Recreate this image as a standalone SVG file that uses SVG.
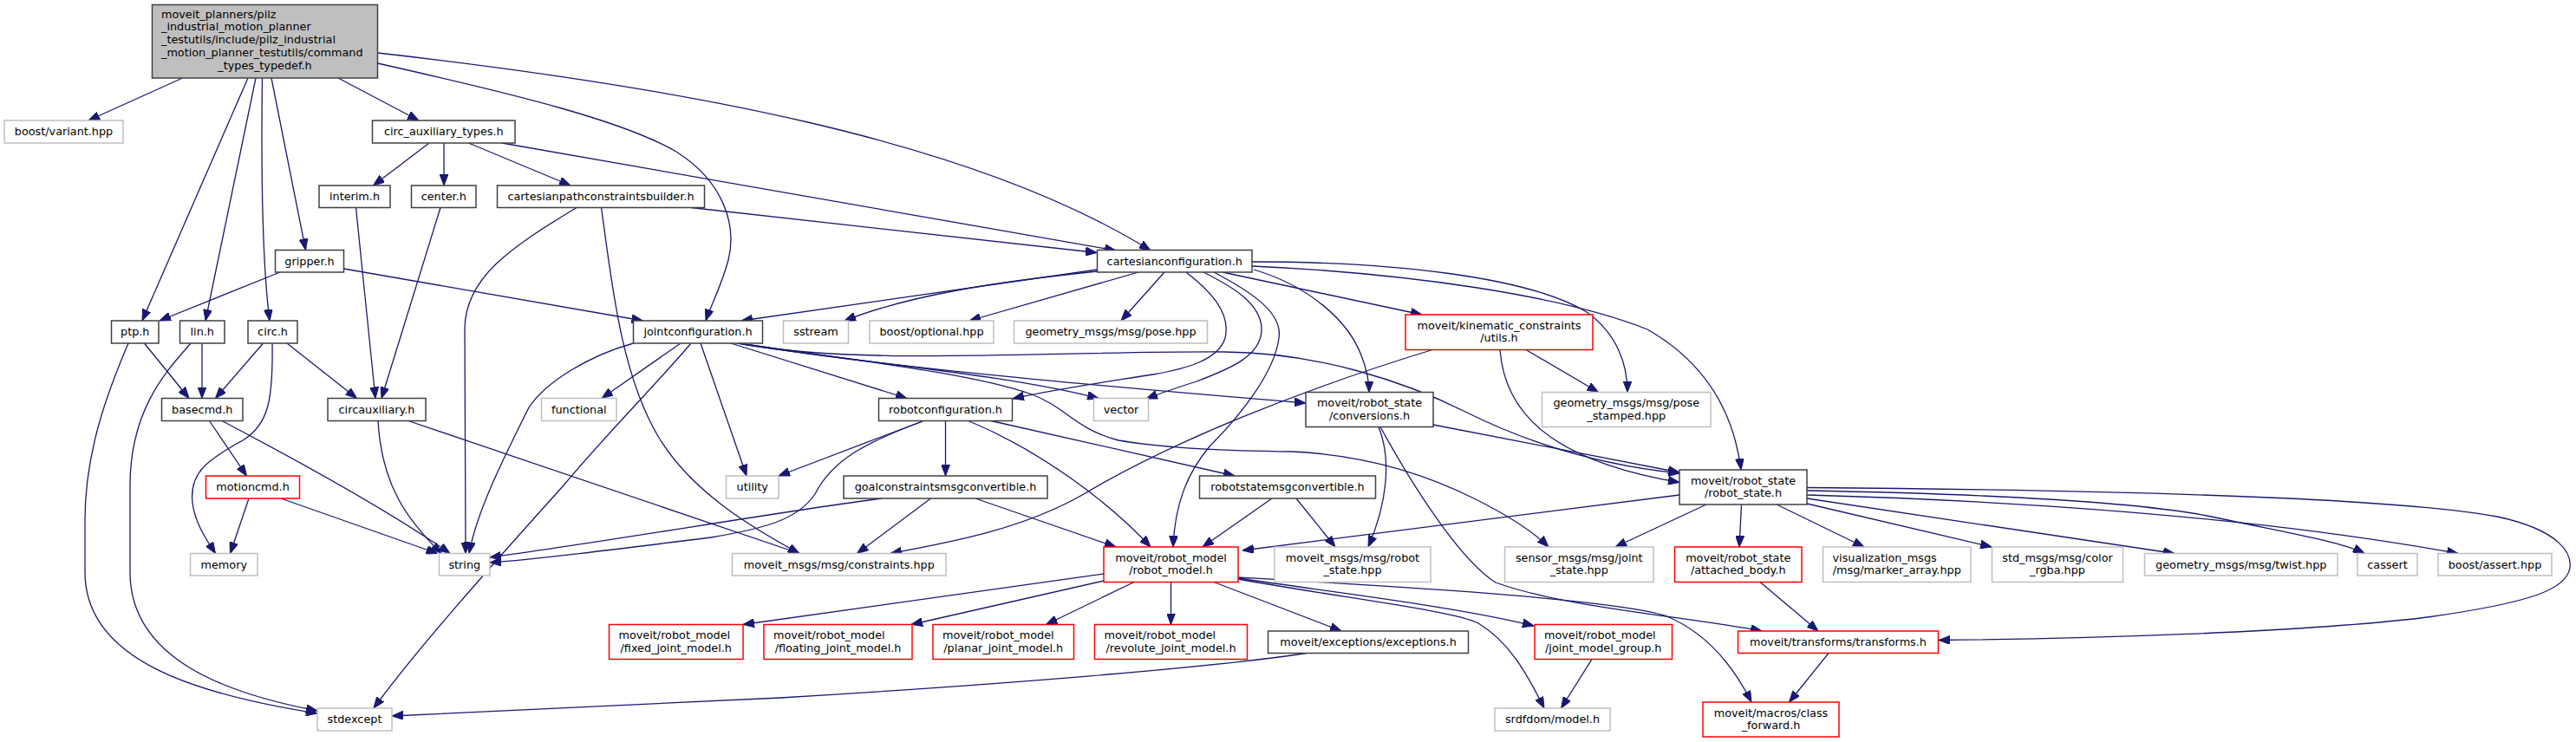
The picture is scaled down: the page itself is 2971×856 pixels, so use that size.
<svg xmlns="http://www.w3.org/2000/svg" width="2971" height="856" viewBox="0 0 2971 856">
<style>
.n rect{fill:#fff;stroke:#404040;stroke-width:1.5}
.g rect{fill:#fff;stroke:#bfbfbf;stroke-width:1.5}
.r rect{fill:#fff;stroke:#ff0000;stroke-width:1.5}
.m rect{fill:#bfbfbf;stroke:#404040;stroke-width:1.5}
text{font-family:"DejaVu Sans","Liberation Sans",sans-serif;font-size:12.8px;fill:#000}
.c{text-anchor:middle}
#edges path{fill:none;stroke:#191970;stroke-width:1.3;marker-end:url(#a)}
</style>
<defs>
<marker id="a" viewBox="0 0 13 10" refX="13" refY="5" markerWidth="13" markerHeight="10" markerUnits="userSpaceOnUse" orient="auto"><path d="M0,0 L13,5 L0,10 z" fill="#191970" stroke="#191970" stroke-width="1"/></marker>
</defs>
<rect x="0" y="0" width="2971" height="856" fill="#fff"/>
<g id="edges">
<path d="M210.5,90 L102,139"/>
<path d="M286,90 L164,370"/>
<path d="M295,90 L237,370"/>
<path d="M302.5,90 C 301,200 302,300 311,370"/>
<path d="M313,90 L352.5,288.5"/>
<path d="M390,90 L483,139"/>
<path d="M435.5,73 C 600,110 720,140 780,175 C 835,210 850,260 840,300 C 832,330 820,352 814,370"/>
<path d="M435.5,61 C 780,100 1120,160 1327,289"/>
<path d="M495,165 L430.5,214"/>
<path d="M512,165 L512,214"/>
<path d="M540.5,165 L658,214"/>
<path d="M579,165 L1287,289"/>
<path d="M410.5,239.5 L433,459.5"/>
<path d="M508,239.5 L440,459.5"/>
<path d="M797,239.5 L1265,291.5"/>
<path d="M665,239.5 C 590,285 536,320 536,380 L 537,638.5"/>
<path d="M693.5,239.5 C 705,320 715,430 760,505 C 800,570 870,610 922,638.5"/>
<path d="M323,314 L184,370"/>
<path d="M396.5,310 L741.5,370"/>
<path d="M166.5,396 L218,459.5"/>
<path d="M148,396 C 125,450 98,520 98,600 L 98,660 C 98,760 220,800 366,823"/>
<path d="M233,396 L233,459.5"/>
<path d="M220,396 C 195,425 150,470 150,560 L 150,660 C 150,760 260,800 366,820"/>
<path d="M303.5,396 L248.5,459.5"/>
<path d="M314,396 C 315,460 310,490 280,508 C 240,530 218,545 222,580 C 225,605 240,625 248.5,638.5"/>
<path d="M331,396 L411.5,459.5"/>
<path d="M241.5,485.5 L284.5,549"/>
<path d="M256,485.5 C 350,535 450,590 519,638.5"/>
<path d="M287,575 L265.5,638.5"/>
<path d="M324,575 L504.5,638.5"/>
<path d="M436,485.5 C 440,560 470,600 509,638.5"/>
<path d="M471,485.5 L922,638.5"/>
<path d="M730.5,396 C 680,410 630,440 610,470 C 580,530 550,590 541,638.5"/>
<path d="M785,396 L694,459.5"/>
<path d="M797,396 C 760,440 700,500 650,560 C 560,660 480,750 431,817"/>
<path d="M808,396 L861,549"/>
<path d="M843,396 L1046,459.5"/>
<path d="M850,396 C 1000,420 1150,430 1267,459.5"/>
<path d="M852,396 C 1000,420 1200,440 1506,465"/>
<path d="M866,398 C 980,415 1120,430 1190,455 C 1230,470 1240,495 1290,508 C 1350,518 1420,520 1490,521 C 1580,525 1650,550 1700,575 C 1740,595 1770,615 1786,631"/>
<path d="M857,397 C 1000,422 1200,405 1413,406 C 1520,407 1620,440 1690,475 C 1750,505 1830,535 1937,546"/>
<path d="M1265.5,311 L855,370"/>
<path d="M1265.5,313 C 1150,325 1050,340 974,370"/>
<path d="M1313,314 L1118,370"/>
<path d="M1343,314 L1293,370"/>
<path d="M1368,314 C 1395,335 1420,360 1413,390 C 1405,415 1370,425 1330,432 C 1260,443 1210,450 1168,460"/>
<path d="M1388,314 C 1420,330 1455,350 1455,380 C 1455,410 1420,425 1380,440 C 1355,448 1335,455 1322,460"/>
<path d="M1400,314 C 1440,335 1480,360 1475,390 C 1470,430 1430,480 1395,515 C 1370,545 1355,580 1353,631"/>
<path d="M1410,314 L1640,363"/>
<path d="M1446,311 C 1510,330 1555,370 1570,410 C 1578,430 1579,445 1579,452.5"/>
<path d="M1444,302 C 1600,302 1760,318 1830,360 C 1865,385 1877,420 1877,452.5"/>
<path d="M1444,307 C 1620,315 1800,340 1900,380 C 1970,420 2000,480 2008,542"/>
<path d="M1652,403.5 C 1500,450 1350,510 1250,570 C 1180,610 1100,625 1027,638.5"/>
<path d="M1730,403.5 C 1735,470 1780,530 1937,556.5"/>
<path d="M1760,403.5 L1843.5,452.5"/>
<path d="M1653,490 L1937,545"/>
<path d="M1590,492.5 C 1605,530 1600,580 1578,631"/>
<path d="M1592,492.5 C 1640,580 1690,650 1725,672 C 1800,700 1950,712 2032,728"/>
<path d="M1273,662 L857,720.5"/>
<path d="M1273,670 L1051,720.5"/>
<path d="M1308,671.5 L1206.5,720.5"/>
<path d="M1350.5,671.5 L1350.5,720.5"/>
<path d="M1400,671.5 L1547,728"/>
<path d="M1428,667 C 1550,685 1680,700 1769,722"/>
<path d="M1428,668 C 1550,690 1680,705 1705,719 C 1740,740 1760,775 1781,817"/>
<path d="M1428,666 C 1600,676 1850,690 1920,710 C 1970,730 2000,770 2020,810"/>
<path d="M1836,760.5 L1800.5,817"/>
<path d="M1507,753.5 C 1400,770 1150,790 900,805 C 700,815 520,822 452,826"/>
<path d="M1937,571 L1433,635"/>
<path d="M1968,582 L1863,631"/>
<path d="M2008.5,582 L2006,631"/>
<path d="M2049,582 L2150,631"/>
<path d="M2084,581 L2297,631"/>
<path d="M2084,575 L2508,638.5"/>
<path d="M2084,566 C 2300,570 2480,580 2560,598 C 2640,615 2700,625 2727,638.5"/>
<path d="M2084,571 C 2400,580 2650,605 2835,638.5"/>
<path d="M2084,562.5 C 2400,565 2750,572 2880,596 C 2955,612 2966,640 2964,655 C 2960,680 2920,695 2800,712 C 2650,730 2400,737 2236,738.5"/>
<path d="M2030,671.5 L2097,728"/>
<path d="M2109,753.5 L2063.5,810"/>
<path d="M1065,485.5 L898,549"/>
<path d="M1063,486.5 C 1000,510 960,530 940,570 C 920,600 880,610 820,620 C 700,635 620,645 565,649"/>
<path d="M1090.5,485.5 L1090.5,549"/>
<path d="M1117,485.5 C 1200,520 1280,580 1327,631"/>
<path d="M1143,485.5 L1424,549"/>
<path d="M1017,575 C 900,590 700,625 565,643"/>
<path d="M1073.5,575 L988.5,638.5"/>
<path d="M1125,575 L1287,631"/>
<path d="M1467,575 L1387,631"/>
<path d="M1495,575 L1540,631"/>
</g>
<g id="node-main" class="m"><rect x="175.5" y="5.5" width="260" height="84.5"/><text x="186" y="20.7">moveit_planners/pilz</text><text x="186" y="35.4">_industrial_motion_planner</text><text x="186" y="50.1">_testutils/include/pilz_industrial</text><text x="186" y="64.8">_motion_planner_testutils/command</text><text class="c" x="305.5" y="79.5">_types_typedef.h</text></g>
<g id="node-boost-variant" class="g"><rect x="5" y="139" width="137" height="26"/><text class="c" x="73.5" y="156">boost/variant.hpp</text></g>
<g id="node-circ-aux-types" class="n"><rect x="429.5" y="139" width="164.5" height="26"/><text class="c" x="511.75" y="156">circ_auxiliary_types.h</text></g>
<g id="node-interim" class="n"><rect x="368" y="214" width="82" height="25.5"/><text class="c" x="409" y="231">interim.h</text></g>
<g id="node-center" class="n"><rect x="474.5" y="214" width="74.5" height="25.5"/><text class="c" x="511.75" y="231">center.h</text></g>
<g id="node-cpcb" class="n"><rect x="573.5" y="214" width="239" height="25.5"/><text class="c" x="693" y="231">cartesianpathconstraintsbuilder.h</text></g>
<g id="node-gripper" class="n"><rect x="317.5" y="288.5" width="79" height="25.5"/><text class="c" x="357" y="305.5">gripper.h</text></g>
<g id="node-cartconf" class="n"><rect x="1265.5" y="288.5" width="178.5" height="25.5"/><text class="c" x="1354.75" y="305.5">cartesianconfiguration.h</text></g>
<g id="node-ptp" class="n"><rect x="128.5" y="370" width="54.5" height="26"/><text class="c" x="155.75" y="387">ptp.h</text></g>
<g id="node-lin" class="n"><rect x="207.5" y="370" width="51.5" height="26"/><text class="c" x="233.25" y="387">lin.h</text></g>
<g id="node-circ" class="n"><rect x="286" y="370" width="57" height="26"/><text class="c" x="314.5" y="387">circ.h</text></g>
<g id="node-jointconf" class="n"><rect x="730.5" y="370" width="149" height="26"/><text class="c" x="805" y="387">jointconfiguration.h</text></g>
<g id="node-sstream" class="g"><rect x="903.5" y="370" width="75" height="26"/><text class="c" x="941" y="387">sstream</text></g>
<g id="node-boost-optional" class="g"><rect x="1003" y="370" width="143" height="26"/><text class="c" x="1074.5" y="387">boost/optional.hpp</text></g>
<g id="node-pose" class="g"><rect x="1169.5" y="370" width="223" height="26"/><text class="c" x="1281" y="387">geometry_msgs/msg/pose.hpp</text></g>
<g id="node-kc-utils" class="r"><rect x="1621" y="363" width="216" height="40.5"/><text class="c" x="1729" y="379.5">moveit/kinematic_constraints</text><text class="c" x="1729" y="394">/utils.h</text></g>
<g id="node-basecmd" class="n"><rect x="186.5" y="459.5" width="93.5" height="26"/><text class="c" x="233.25" y="476.5">basecmd.h</text></g>
<g id="node-circauxiliary" class="n"><rect x="378" y="459.5" width="113" height="26"/><text class="c" x="434.5" y="476.5">circauxiliary.h</text></g>
<g id="node-functional" class="g"><rect x="624.5" y="459.5" width="86.5" height="26"/><text class="c" x="667.75" y="476.5">functional</text></g>
<g id="node-robotconf" class="n"><rect x="1013.5" y="459.5" width="154" height="26"/><text class="c" x="1090.5" y="476.5">robotconfiguration.h</text></g>
<g id="node-vector" class="g"><rect x="1261.5" y="459.5" width="63" height="26"/><text class="c" x="1293" y="476.5">vector</text></g>
<g id="node-conversions" class="n"><rect x="1506" y="452.5" width="147" height="40"/><text class="c" x="1579.5" y="469">moveit/robot_state</text><text class="c" x="1579.5" y="483.5">/conversions.h</text></g>
<g id="node-pose-stamped" class="g"><rect x="1778.5" y="452.5" width="194.5" height="40"/><text class="c" x="1875.75" y="469">geometry_msgs/msg/pose</text><text class="c" x="1875.75" y="483.5">_stamped.hpp</text></g>
<g id="node-robot-state" class="n"><rect x="1937" y="542" width="147" height="40"/><text class="c" x="2010.5" y="558.5">moveit/robot_state</text><text class="c" x="2010.5" y="573">/robot_state.h</text></g>
<g id="node-motioncmd" class="r"><rect x="237.5" y="549" width="108" height="26"/><text class="c" x="291.5" y="566">motioncmd.h</text></g>
<g id="node-utility" class="g"><rect x="837.5" y="549" width="60.5" height="26"/><text class="c" x="867.75" y="566">utility</text></g>
<g id="node-goalconv" class="n"><rect x="973" y="549" width="235" height="26"/><text class="c" x="1090.5" y="566">goalconstraintsmsgconvertible.h</text></g>
<g id="node-rsconv" class="n"><rect x="1383.5" y="549" width="203" height="26"/><text class="c" x="1485" y="566">robotstatemsgconvertible.h</text></g>
<g id="node-memory" class="g"><rect x="219.5" y="638.5" width="77.5" height="25.5"/><text class="c" x="258.25" y="655.5">memory</text></g>
<g id="node-string" class="g"><rect x="506.5" y="638.5" width="58.5" height="25.5"/><text class="c" x="535.75" y="655.5">string</text></g>
<g id="node-constraints" class="g"><rect x="844.5" y="638.5" width="246.5" height="25.5"/><text class="c" x="967.75" y="655.5">moveit_msgs/msg/constraints.hpp</text></g>
<g id="node-robot-model" class="r"><rect x="1273" y="631" width="155" height="40.5"/><text class="c" x="1350.5" y="647.5">moveit/robot_model</text><text class="c" x="1350.5" y="662">/robot_model.h</text></g>
<g id="node-msg-robot-state" class="g"><rect x="1470" y="631" width="180" height="40.5"/><text class="c" x="1560" y="647.5">moveit_msgs/msg/robot</text><text class="c" x="1560" y="662">_state.hpp</text></g>
<g id="node-joint-state" class="g"><rect x="1735.5" y="631" width="171.5" height="40.5"/><text class="c" x="1821.25" y="647.5">sensor_msgs/msg/joint</text><text class="c" x="1821.25" y="662">_state.hpp</text></g>
<g id="node-attached-body" class="r"><rect x="1931.5" y="631" width="146.5" height="40.5"/><text class="c" x="2004.75" y="647.5">moveit/robot_state</text><text class="c" x="2004.75" y="662">/attached_body.h</text></g>
<g id="node-marker-array" class="g"><rect x="2102.5" y="631" width="170.5" height="40.5"/><text x="2113.5" y="647.5">visualization_msgs</text><text class="c" x="2187.75" y="662">/msg/marker_array.hpp</text></g>
<g id="node-color-rgba" class="g"><rect x="2297.5" y="631" width="151" height="40.5"/><text class="c" x="2373" y="647.5">std_msgs/msg/color</text><text class="c" x="2373" y="662">_rgba.hpp</text></g>
<g id="node-twist" class="g"><rect x="2473.5" y="638.5" width="222.5" height="25.5"/><text class="c" x="2584.75" y="655.5">geometry_msgs/msg/twist.hpp</text></g>
<g id="node-cassert" class="g"><rect x="2719" y="638.5" width="69" height="25.5"/><text class="c" x="2753.5" y="655.5">cassert</text></g>
<g id="node-boost-assert" class="g"><rect x="2812" y="638.5" width="131" height="25.5"/><text class="c" x="2877.5" y="655.5">boost/assert.hpp</text></g>
<g id="node-fixed" class="r"><rect x="702.5" y="720.5" width="154.5" height="40"/><text x="713.5" y="737">moveit/robot_model</text><text class="c" x="779.75" y="751.5">/fixed_joint_model.h</text></g>
<g id="node-floating" class="r"><rect x="881" y="720.5" width="171" height="40"/><text x="892" y="737">moveit/robot_model</text><text class="c" x="966.5" y="751.5">/floating_joint_model.h</text></g>
<g id="node-planar" class="r"><rect x="1076" y="720.5" width="162.5" height="40"/><text x="1087" y="737">moveit/robot_model</text><text class="c" x="1157.25" y="751.5">/planar_joint_model.h</text></g>
<g id="node-revolute" class="r"><rect x="1262.5" y="720.5" width="176" height="40"/><text x="1273.5" y="737">moveit/robot_model</text><text class="c" x="1350.5" y="751.5">/revolute_joint_model.h</text></g>
<g id="node-exceptions" class="n"><rect x="1462.5" y="728" width="231" height="25.5"/><text class="c" x="1578" y="745">moveit/exceptions/exceptions.h</text></g>
<g id="node-jmg" class="r"><rect x="1770" y="720.5" width="158.5" height="40"/><text x="1781" y="737">moveit/robot_model</text><text class="c" x="1849.25" y="751.5">/joint_model_group.h</text></g>
<g id="node-transforms" class="r"><rect x="2004.5" y="728" width="231" height="25.5"/><text class="c" x="2120" y="745">moveit/transforms/transforms.h</text></g>
<g id="node-stdexcept" class="g"><rect x="366" y="817" width="86" height="26"/><text class="c" x="409" y="834">stdexcept</text></g>
<g id="node-srdfdom" class="g"><rect x="1724" y="817" width="133" height="26"/><text class="c" x="1790.5" y="834">srdfdom/model.h</text></g>
<g id="node-class-forward" class="r"><rect x="1964" y="810" width="157" height="40"/><text class="c" x="2042.5" y="826.5">moveit/macros/class</text><text class="c" x="2042.5" y="841">_forward.h</text></g>
</svg>
